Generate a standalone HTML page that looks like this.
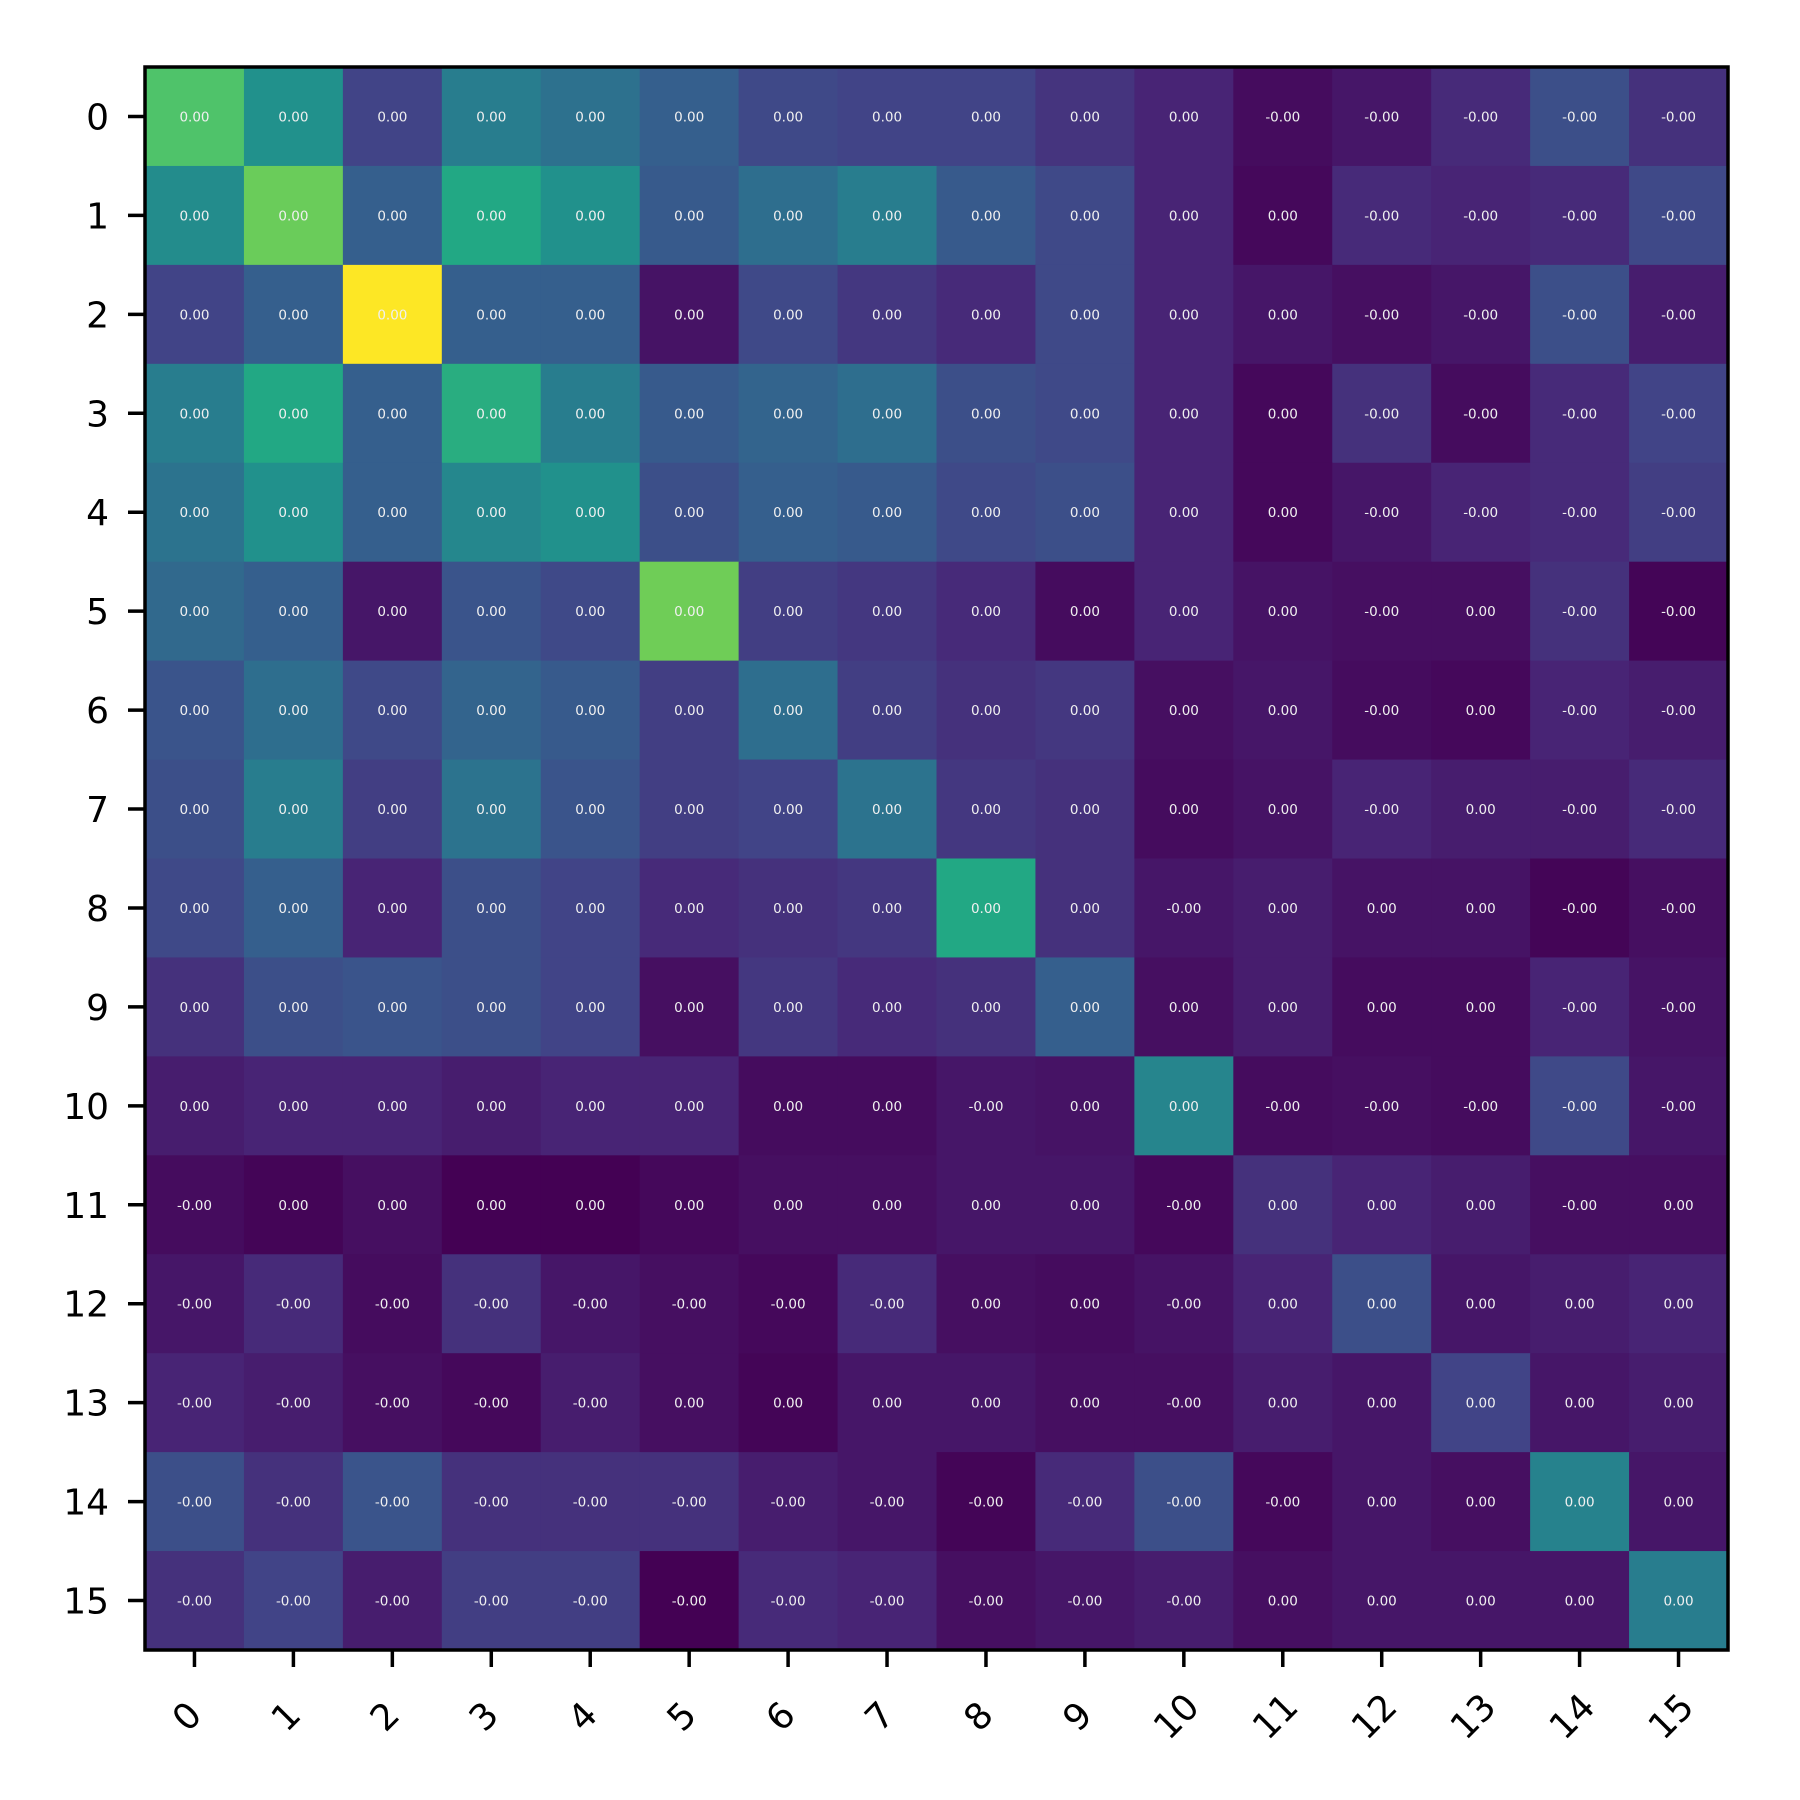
<!DOCTYPE html>
<html><head><meta charset="utf-8"><style>html,body{margin:0;padding:0;background:#fff}svg{display:block}</style></head>
<body>
<svg id="chart" width="1800" height="1800" xmlns="http://www.w3.org/2000/svg" font-family="'DejaVu Sans','Liberation Sans',sans-serif">
<rect width="1800" height="1800" fill="#fff"/>
<g id="cells"></g>
<g id="axes"></g>
</svg>
<script>
const rowLabels = ["0","1","2","3","4","5","6","7","8","9","10","11","12","13","14","15"];
const colLabels = ["0","1","2","3","4","5","6","7","8","9","10","11","12","13","14","15"];
const values = [
[0.72,0.50,0.20,0.42,0.37,0.30,0.22,0.20,0.20,0.15,0.10,0.03,0.06,0.12,0.24,0.14],
[0.48,0.77,0.30,0.60,0.50,0.28,0.36,0.42,0.28,0.22,0.10,0.02,0.12,0.10,0.12,0.22],
[0.20,0.30,1.00,0.30,0.30,0.05,0.22,0.16,0.12,0.22,0.10,0.06,0.04,0.06,0.24,0.08],
[0.42,0.60,0.30,0.62,0.42,0.28,0.32,0.36,0.24,0.22,0.10,0.02,0.14,0.03,0.12,0.20],
[0.38,0.50,0.30,0.46,0.50,0.24,0.30,0.28,0.22,0.24,0.10,0.02,0.06,0.10,0.12,0.18],
[0.34,0.30,0.06,0.26,0.22,0.78,0.18,0.16,0.12,0.03,0.10,0.05,0.04,0.04,0.14,0.01],
[0.26,0.36,0.22,0.32,0.28,0.18,0.36,0.18,0.14,0.16,0.04,0.06,0.03,0.02,0.10,0.08],
[0.24,0.42,0.18,0.38,0.26,0.18,0.20,0.38,0.16,0.14,0.03,0.05,0.10,0.08,0.08,0.12],
[0.22,0.30,0.10,0.24,0.20,0.12,0.14,0.16,0.60,0.14,0.06,0.08,0.05,0.05,0.01,0.04],
[0.14,0.24,0.26,0.24,0.20,0.04,0.16,0.12,0.14,0.30,0.04,0.08,0.03,0.03,0.10,0.05],
[0.08,0.10,0.10,0.08,0.10,0.10,0.03,0.03,0.06,0.05,0.45,0.03,0.04,0.03,0.22,0.06],
[0.03,0.01,0.04,0.00,0.00,0.02,0.04,0.04,0.06,0.06,0.02,0.14,0.10,0.08,0.04,0.04],
[0.06,0.12,0.03,0.14,0.06,0.04,0.02,0.12,0.04,0.03,0.05,0.10,0.24,0.06,0.08,0.10],
[0.10,0.08,0.04,0.02,0.08,0.04,0.01,0.06,0.06,0.04,0.04,0.08,0.06,0.20,0.06,0.08],
[0.24,0.14,0.26,0.14,0.14,0.14,0.08,0.06,0.01,0.12,0.24,0.02,0.06,0.04,0.44,0.06],
[0.14,0.20,0.08,0.18,0.18,0.00,0.12,0.10,0.04,0.06,0.08,0.04,0.06,0.06,0.06,0.42]
];
const signs = [
"+++++++++++-----","++++++++++++----","++++++++++++----","++++++++++++----",
"++++++++++++----","++++++++++++-+--","++++++++++++-+--","++++++++++++-+--",
"++++++++++-+++--","++++++++++++++--","++++++++-++-----","-+++++++++-+++-+",
"--------++-+++++","-----+++++-+++++","------------++++","-----------+++++"
];
const VIR=[[68,1,84],[72,36,117],[65,68,135],[53,95,141],[42,120,142],[33,145,140],[34,168,132],[68,191,112],[122,209,81],[189,223,38],[253,231,37]];
function cmap(v){v=Math.max(0,Math.min(1,v));const t=v*10,i=Math.min(9,Math.floor(t)),f=t-i;const a=VIR[i],b=VIR[i+1];
return `rgb(${a.map((c,k)=>Math.round(c+(b[k]-c)*f)).join(',')})`;}
const X0=145,Y0=67,W=1583,N=16,CS=W/N;
const flat=values.flat(),vmin=Math.min(...flat),vmax=Math.max(...flat);
const xPos=j=>X0+j*CS, yPos=i=>Y0+i*CS;
const NS="http://www.w3.org/2000/svg";
const cells=document.getElementById('cells'),axes=document.getElementById('axes');
function mk(t,attrs,p){const e=document.createElementNS(NS,t);for(const k in attrs)e.setAttribute(k,attrs[k]);p.appendChild(e);return e;}
values.forEach((row,i)=>row.forEach((v,j)=>{
 const r=mk('rect',{x:xPos(j),y:yPos(i),width:CS+0.6,height:CS+0.6,fill:cmap((v-vmin)/(vmax-vmin))},cells);
 
 
 const t=mk('text',{x:xPos(j)+CS/2,y:yPos(i)+CS/2+5,'text-anchor':'middle','font-size':13.5,fill:'#f0f0f0'},cells);
 t.textContent=(signs[i][j]==='-'?'-':'')+'0.00';
 
 
}));
const fr=mk('rect',{x:X0,y:Y0,width:W,height:W,fill:'none',stroke:'#000','stroke-width':3.5},axes);


rowLabels.forEach((l,i)=>{
 const y=yPos(i)+CS/2;
 const tk=mk('line',{x1:X0-17,x2:X0,y1:y,y2:y,stroke:'#000','stroke-width':3.5},axes);
 
 
 const t=mk('text',{x:X0-36,y:y+13,'text-anchor':'end','font-size':36,fill:'#000'},axes);
 t.textContent=l;
 
 
});
colLabels.forEach((l,j)=>{
 const x=xPos(j)+CS/2;
 const tk=mk('line',{x1:x,x2:x,y1:W+Y0,y2:W+Y0+17,stroke:'#000','stroke-width':3.5},axes);
 
 
 const cx=x-7,cy=1717;
 const t=mk('text',{x:cx,y:cy,'text-anchor':'middle','dominant-baseline':'central','font-size':36,fill:'#000',transform:`rotate(-45 ${cx} ${cy})`},axes);
 t.textContent=l;
 
 
});
</script>
</body></html>
